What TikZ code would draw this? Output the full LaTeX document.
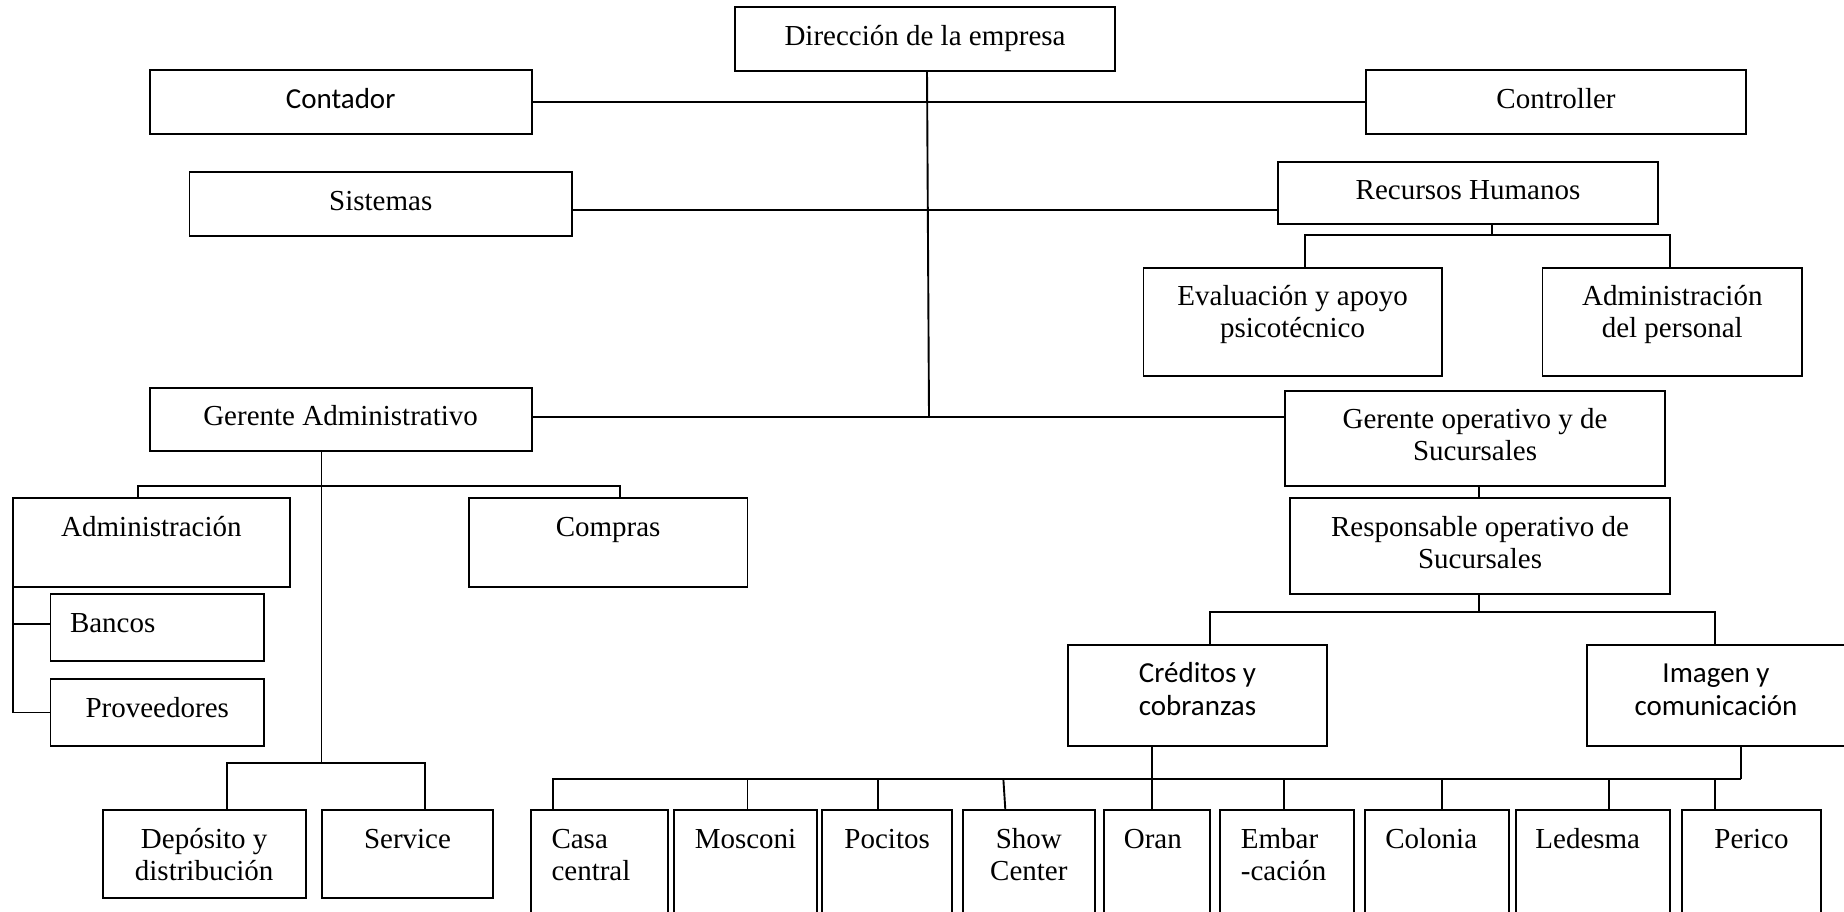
\documentclass[tikz,border=0pt]{standalone}
\usepackage{fontspec}
\setmainfont{Liberation Serif}
\newfontfamily\calibrifont{Carlito}
\usetikzlibrary{fit}
\newcommand\T{\rule{0pt}{38pt}}
\begin{document}
\begin{tikzpicture}[x=1pt,y=-1pt,
  box/.style={draw, line width=1.9pt, inner sep=0pt, outer sep=0pt},
  txt/.style={anchor=north, inner sep=0pt, outer sep=0pt, align=center, font=\fontsize{29}{32}\selectfont},
  txtl/.style={txt, anchor=north west, align=left},
  cal/.style={font=\calibrifont\fontsize{29}{33}\selectfont},
  link/.style={line width=1.9pt}]
\useasboundingbox (0,0) rectangle (1844,911);

% boxes
\node[box, fit={(734.6,7.3) (1115.4,70.7)}] (dir) {};
\node[box, fit={(149.6,70) (531.6,134)}] (cont) {};
\node[box, fit={(1366,70) (1746,134)}] (ctrl) {};
\node[box, fit={(189.5,172.3) (572,236)}] (sis) {};
\node[box, fit={(1278,161.7) (1658,224.3)}] (rh) {};
\node[box, fit={(1143.5,267.7) (1441.6,376)}] (eva) {};
\node[box, fit={(1542.5,267.7) (1802,376)}] (adp) {};
\node[box, fit={(149.6,387.7) (531.6,451)}] (ga) {};
\node[box, fit={(1285,390.7) (1665,485.7)}] (go) {};
\node[box, fit={(1290,498.3) (1670,594.3)}] (resp) {};
\node[box, fit={(12.9,498.3) (289.9,586.7)}] (adm) {};
\node[box, fit={(468.8,498.3) (747.5,586.7)}] (com) {};
\node[box, fit={(50.5,594.3) (264,660.7)}] (ban) {};
\node[box, fit={(50.5,679.3) (264,745.7)}] (pro) {};
\node[box, fit={(102.7,810) (305.7,898.3)}] (dep) {};
\node[box, fit={(322.1,810) (492.9,898.3)}] (ser) {};
\node[box, fit={(1068.4,644.7) (1326.6,745.7)}] (cred) {};
\node[box, fit={(1587,644.7) (1848,745.7)}] (img) {};
\node[box, fit={(531,810) (668.3,925)}] (casa) {};
\node[box, fit={(673.6,810) (817.4,925)}] (mos) {};
\node[box, fit={(822,810) (952.3,925)}] (poc) {};
\node[box, fit={(962.8,810) (1094.9,925)}] (show) {};
\node[box, fit={(1103.7,810) (1209.9,925)}] (oran) {};
\node[box, fit={(1220.4,810) (1354.2,925)}] (emb) {};
\node[box, fit={(1365.3,810) (1509.1,925)}] (col) {};
\node[box, fit={(1515.6,810) (1669.9,925)}] (led) {};
\node[box, fit={(1682.2,810) (1820.7,925)}] (per) {};

% texts
\node[txt] (t-dir) at (dir.north) {\T Dirección de la empresa};
\node[txt,cal] (t-cont) at (cont.north) {\T Contador};
\node[txt] (t-ctrl) at (ctrl.north) {\T Controller};
\node[txt] (t-sis) at (sis.north) {\T Sistemas};
\node[txt] (t-rh) at (rh.north) {\T Recursos Humanos};
\node[txt] (t-eva) at (eva.north) {\T Evaluación y apoyo\\psicotécnico};
\node[txt] (t-adp) at (adp.north) {\T Administración\\del personal};
\node[txt] (t-ga) at (ga.north) {\T Gerente Administrativo};
\node[txt] (t-go) at (go.north) {\T Gerente operativo y de\\Sucursales};
\node[txt] (t-resp) at (resp.north) {\T Responsable operativo de\\Sucursales};
\node[txt] (t-adm) at (adm.north) {\T Administración};
\node[txt] (t-com) at (com.north) {\T Compras};
\node[txtl] (t-ban) at ([xshift=19.5pt]ban.north west) {\T Bancos};
\node[txt] (t-pro) at (pro.north) {\T Proveedores};
\node[txt] (t-dep) at (dep.north) {\T Depósito y\\distribución};
\node[txt] (t-ser) at (ser.north) {\T Service};
\node[txt,cal] (t-cred) at (cred.north) {\T Créditos y\\cobranzas};
\node[txt,cal] (t-img) at ([xshift=-1.5pt]img.north) {\T Imagen y\\comunicación};
\node[txtl] (t-casa) at ([xshift=20.5pt]casa.north west) {\T Casa\\central};
\node[txt] (t-mos) at (mos.north) {\T Mosconi};
\node[txt] (t-poc) at (poc.north) {\T Pocitos};
\node[txt] (t-show) at (show.north) {\T Show\\Center};
\node[txt] (t-oran) at ([xshift=-4pt]oran.north) {\T Oran};
\node[txtl] (t-emb) at ([xshift=20.5pt]emb.north west) {\T Embar\\-cación};
\node[txt] (t-col) at ([xshift=-6pt]col.north) {\T Colonia};
\node[txt] (t-led) at ([xshift=-5pt]led.north) {\T Ledesma};
\node[txt] (t-per) at (per.north) {\T Perico};

% junctions
\coordinate (tr) at (929,416.7);
\coordinate (rhj) at (1492,235.3);
\coordinate (rj) at (1478.6,612);
\coordinate (gaj) at (321.5,485.7);
\coordinate (gab) at (321.5,763.3);
\coordinate (busR) at (1741,779);

% connectors
\draw[link] ([xshift=2pt]dir.south) -- (tr);
\draw[link] (cont.east) -- (ctrl.west);
\draw[link] ([yshift=-5.55pt]sis.east) -- ([yshift=-5.55pt]sis.east -| rh.west);
\draw[link] ([yshift=2.65pt]ga.east) -- ([yshift=2.65pt]ga.east -| go.west);
\draw[link] ([xshift=24pt]rh.south) -- (rhj);
\draw[link] ([xshift=12.45pt]eva.north) |- (rhj) -| ([xshift=-2.25pt]adp.north);
\draw[link] ([xshift=3.6pt]go.south) -- ([xshift=3.6pt]go.south |- resp.north);
\draw[link] ([xshift=-1.4pt]resp.south) -- (rj);
\draw[link] ([xshift=12.5pt]cred.north) |- (rj) -| ([xshift=-2.5pt]img.north);
\draw[link] ([xshift=23.5pt]img.south) -- (busR);
\draw[link] ([xshift=-46.35pt]casa.north) |- (busR);
\draw[link] ([xshift=-45.1pt]cred.south) -- ([xshift=-4.4pt]oran.north);
\draw[link] ([xshift=2pt]mos.north) -- ([xshift=2pt]mos.north |- busR);
\draw[link] ([xshift=-8.75pt]poc.north) -- ([xshift=-8.75pt]poc.north |- busR);
\draw[link] ([xshift=-23.5pt]show.north) -- ([xshift=-25.5pt]show.north |- busR);
\draw[link] ([xshift=-2.9pt]emb.north) -- ([xshift=-2.9pt]emb.north |- busR);
\draw[link] ([xshift=4.4pt]col.north) -- ([xshift=4.4pt]col.north |- busR);
\draw[link] ([xshift=16.65pt]led.north) -- ([xshift=16.65pt]led.north |- busR);
\draw[link] ([xshift=-36.45pt]per.north) -- ([xshift=-36.45pt]per.north |- busR);
\draw[link] ([xshift=-19.1pt]ga.south) -- (gab);
\draw[link] ([xshift=-13.5pt]adm.north) |- (gaj) -| ([xshift=12.05pt]com.north);
\draw[link] ([xshift=22.8pt]dep.north) |- (gab) -| ([xshift=17.9pt]ser.north);
\draw[link] (adm.south west) |- (pro.west);
\draw[link] ([yshift=3.8pt]ban.west) -- ([yshift=3.8pt]ban.west -| adm.west);
\end{tikzpicture}
\end{document}
